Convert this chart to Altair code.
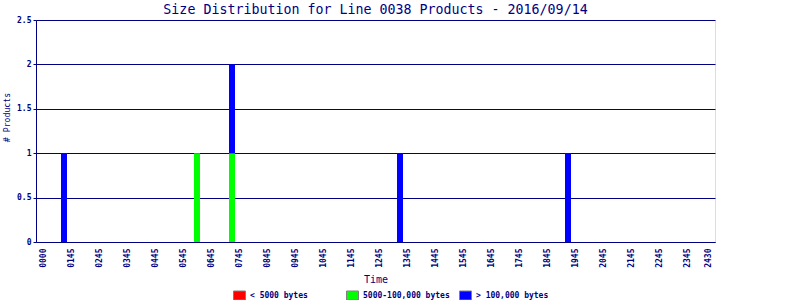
import altair as alt
import pandas as pd

# ---- data ----
categories = ["< 5000 bytes", "5000-100,000 bytes", "> 100,000 bytes"]
colors = ["#FF0000", "#00FF00", "#0000FF"]

bar_minutes = [45, 330, 405, 765, 1125]      # minute of day of each bin with products
small_counts = [0, 0, 0, 0, 0]
medium_counts = [0, 1, 1, 0, 0]
large_counts = [1, 0, 1, 1, 1]

tick_minutes = [0, 60, 120, 180, 240, 300, 360, 420, 480, 540, 600, 660, 720,
                780, 840, 900, 960, 1020, 1080, 1140, 1200, 1260, 1320, 1380, 1425]
tick_labels = ["0000", "0145", "0245", "0345", "0445", "0545", "0645", "0745",
               "0845", "0945", "1045", "1145", "1245", "1345", "1445", "1545",
               "1645", "1745", "1845", "1945", "2045", "2145", "2245", "2345", "2430"]

y_ticks = [0, 0.5, 1, 1.5, 2, 2.5]

rows = []
for i, m in enumerate(bar_minutes):
    for k, (cat, vals) in enumerate(zip(categories, [small_counts, medium_counts, large_counts])):
        if vals[i] > 0:
            rows.append({"minute": m, "size": cat, "order": k, "count": vals[i]})
df = pd.DataFrame(rows)

NAVY = "#000080"
MONO = "DejaVu Sans Mono"

label_expr = "[" + ",".join(f"'{t}'" for t in tick_labels) + "][indexof([" + \
    ",".join(str(t) for t in tick_minutes) + "], datum.value)]"

chart = alt.Chart(df).mark_bar(size=6).encode(
    x=alt.X("minute:Q",
            scale=alt.Scale(domain=[-15, 1440], nice=False, zero=False, padding=0),
            axis=alt.Axis(values=tick_minutes, labelExpr=label_expr, labelAngle=-90,
                          labelAlign="right", labelBaseline="middle", labelPadding=6,
                          ticks=False, grid=False, domainColor=NAVY, labelColor=NAVY,
                          labelFont=MONO, labelFontSize=8, labelFontWeight="bold",
                          title="Time", titleFont=MONO, titleFontSize=10,
                          titleFontWeight="normal", titleColor=NAVY, titlePadding=7,
                          labelOverlap=False)),
    y=alt.Y("sum(count):Q", stack="zero",
            scale=alt.Scale(domain=[0, 2.5], nice=False),
            axis=alt.Axis(values=y_ticks, format="~g", grid=True, gridColor=NAVY,
                          gridOpacity=1, domainColor=NAVY, tickColor=NAVY, tickSize=3,
                          labelColor=NAVY, labelFont=MONO, labelFontSize=8,
                          labelFontWeight="bold", labelPadding=2,
                          title="# Products", titleFont=MONO, titleFontSize=8.2,
                          titleFontWeight="normal", titleColor=NAVY, titlePadding=5,
                          titleY=97, titleAlign="center")),
    color=alt.Color("size:N",
                    scale=alt.Scale(domain=categories, range=colors),
                    legend=alt.Legend(title=None, orient="none", legendX=197, legendY=269,
                                      direction="horizontal", columns=3, gridAlign="all",
                                      columnPadding=7, padding=0,
                                      symbolType="M-1,-0.75H1V0.75H-1Z", symbolSize=144,
                                      symbolStrokeColor="#808080", symbolStrokeWidth=1,
                                      symbolOpacity=1,
                                      labelFont=MONO, labelFontSize=8, labelFontWeight="bold",
                                      labelColor=NAVY, labelOffset=4)),
    order=alt.Order("order:Q", sort="ascending"),
).properties(
    width=679, height=222,
    autosize=alt.AutoSizeParams(type="none"),
    padding={"left": 36, "top": 20, "right": 85, "bottom": 58},
    title=alt.Title("Size Distribution for Line 0038 Products - 2016/09/14",
                    font=MONO, fontSize=13.3, fontWeight="normal", color=NAVY,
                    anchor="middle", frame="group", offset=0),
).configure_view(
    stroke=NAVY, strokeWidth=1
).configure(background="white")

chart.save("out.html", embed_options={"renderer": "svg", "actions": False})
